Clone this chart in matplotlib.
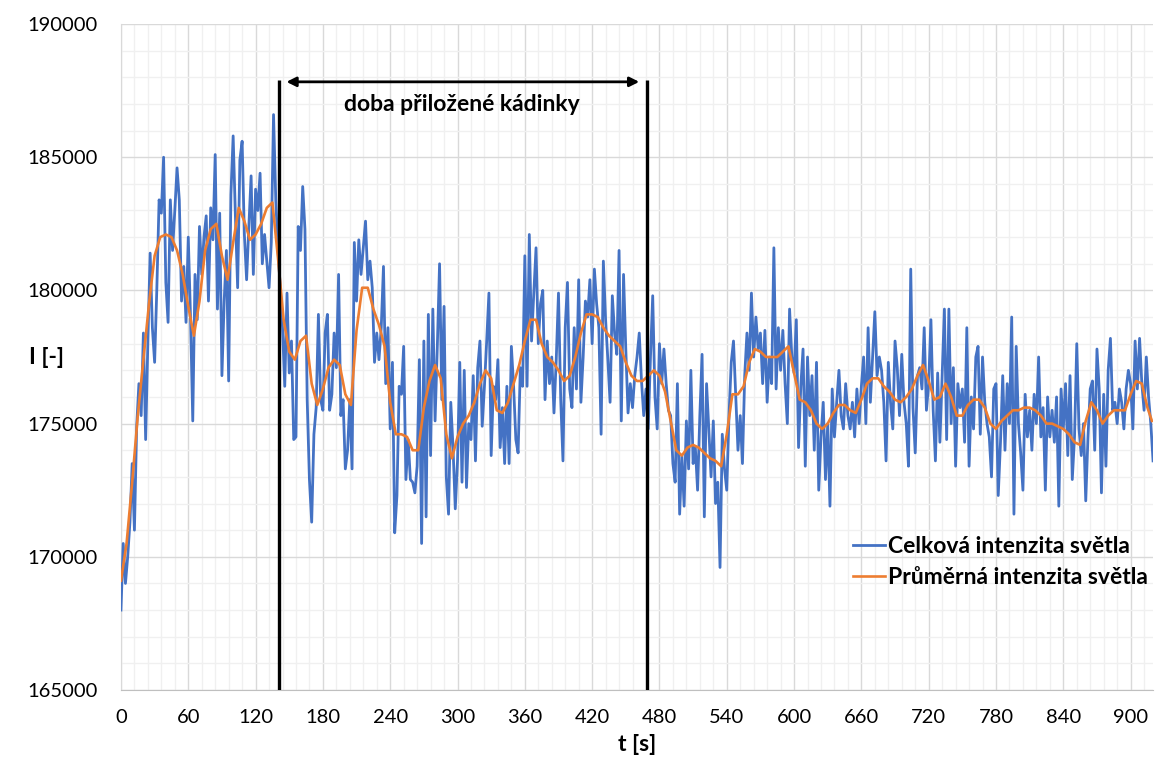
import numpy as np
import matplotlib
matplotlib.use("Agg")
import matplotlib.pyplot as plt
from matplotlib.ticker import MultipleLocator

plt.rcParams['font.family'] = ['Lato', 'DejaVu Sans']

# Celková intenzita světla, one reading every 2 s, values in thousands
celkova_k = [
    168.0, 170.5, 169.0, 170.0, 171.3, 173.5, 171.0, 174.9, 176.5, 175.3,
    178.4, 174.4, 178.1, 181.4, 178.6, 177.3, 180.1, 183.4, 182.9, 185.0,
    180.3, 178.8, 183.4, 181.5, 183.0, 184.6, 183.4, 179.6, 180.9, 178.8,
    182.0, 179.0, 175.1, 180.6, 178.9, 182.4, 180.6, 182.0, 182.8, 179.6,
    183.1, 181.9, 185.1, 179.3, 182.9, 176.8, 179.6, 181.5, 176.6, 183.6,
    185.8, 182.8, 180.1, 184.9, 185.6, 182.1, 180.4, 182.4, 184.3, 180.6,
    183.8, 183.0, 184.4, 181.0, 182.1, 181.1, 180.1, 181.8, 186.6, 183.4,
    181.5, 180.1, 178.6, 176.4, 179.9, 176.9, 178.1, 174.4, 174.5, 182.4,
    181.5, 183.9, 182.3, 175.9, 172.9, 171.3, 174.6, 175.6, 179.1, 175.9,
    175.5, 178.4, 179.1, 175.5, 176.1, 178.4, 177.1, 180.6, 175.3, 175.9,
    173.3, 174.0, 175.9, 173.3, 181.8, 179.6, 181.9, 180.6, 181.6, 182.6,
    180.4, 181.1, 180.1, 177.3, 178.4, 177.4, 178.6, 180.9, 176.5, 178.6,
    174.8, 177.3, 170.9, 172.3, 176.4, 176.1, 177.9, 172.9, 174.4, 172.9,
    172.8, 172.4, 173.4, 177.4, 170.5, 178.1, 171.5, 179.1, 173.8, 179.3,
    175.1, 177.9, 181.0, 175.9, 179.4, 173.0, 171.6, 175.8, 174.1, 171.8,
    173.6, 177.3, 172.8, 177.0, 172.6, 175.0, 174.4, 176.8, 173.6, 177.1,
    178.1, 174.9, 176.4, 178.1, 179.9, 173.8, 176.4, 175.9, 177.4, 174.1,
    175.6, 173.5, 176.4, 173.5, 177.9, 176.4, 174.4, 173.9, 177.1, 176.4,
    181.3, 176.4, 182.1, 178.1, 179.9, 181.6, 178.0, 179.5, 180.0, 175.9,
    178.1, 176.5, 177.5, 175.4, 177.4, 179.9, 175.9, 173.6, 178.6, 180.3,
    176.3, 175.6, 178.6, 176.3, 180.4, 175.8, 177.5, 179.6, 179.0, 180.4,
    178.0, 180.8, 179.5, 178.6, 174.6, 181.1, 178.9, 177.4, 175.8, 179.8,
    178.4, 177.6, 181.5, 175.1, 180.6, 177.8, 175.4, 176.5, 175.6, 176.8,
    177.5, 178.4, 176.6, 175.3, 176.3, 174.8, 177.5, 179.8, 176.0, 174.8,
    178.0, 176.5, 177.8, 176.5, 175.5, 175.3, 173.5, 172.8, 176.5, 171.6,
    173.8, 171.9, 175.1, 173.3, 177.0, 173.5, 174.1, 172.5, 175.3, 177.6,
    171.5, 176.5, 174.8, 173.0, 175.1, 172.0, 172.8, 169.6, 174.6, 173.3,
    172.5, 175.3, 177.3, 178.1, 176.0, 174.0, 175.3, 173.5, 176.8, 178.4,
    177.0, 179.9, 177.5, 179.0, 177.8, 178.4, 176.5, 178.5, 175.8, 177.5,
    176.5, 181.6, 176.3, 178.6, 177.0, 178.5, 176.5, 175.0, 179.3, 177.5,
    176.9, 178.9, 174.1, 176.4, 177.8, 173.4, 177.5, 175.3, 176.8, 174.0,
    177.3, 172.5, 174.5, 175.8, 172.9, 175.0, 171.9, 176.3, 174.5, 175.8,
    177.0, 175.3, 174.8, 176.5, 175.3, 174.8, 175.8, 174.5, 176.3, 175.0,
    176.4, 177.5, 175.0, 178.6, 175.8, 177.5, 179.2, 176.8, 177.5, 177.0,
    175.8, 173.6, 177.3, 175.8, 174.8, 178.1, 177.1, 175.3, 177.6, 175.8,
    175.0, 173.4, 180.8, 175.6, 173.9, 176.8, 177.1, 176.3, 178.6, 175.5,
    176.5, 178.9, 175.5, 173.6, 176.9, 174.3, 176.8, 179.3, 174.4, 179.3,
    175.0, 177.1, 173.4, 176.5, 175.6, 176.3, 174.3, 178.6, 173.4, 176.0,
    174.8, 177.5, 177.9, 174.6, 177.5, 175.8, 175.0, 174.5, 173.0, 176.3,
    176.5, 172.3, 174.3, 176.8, 174.0, 176.5, 175.0, 179.0, 171.6, 177.9,
    175.0, 173.9, 172.5, 176.1, 174.5, 175.5, 174.0, 176.1, 175.0, 177.5,
    174.5, 175.6, 172.5, 176.0, 174.5, 175.5, 174.3, 176.0, 171.9, 176.3,
    174.8, 176.5, 173.8, 176.8, 172.9, 174.5, 178.0, 174.8, 173.8, 175.0,
    172.1, 174.5, 176.3, 176.6, 174.0, 177.8, 176.3, 172.4, 176.1, 173.4,
    177.0, 178.2, 175.5, 175.8, 175.0, 176.3, 175.8, 174.8, 176.3, 177.0,
    176.5, 174.8, 178.1, 176.3, 178.2, 176.5, 175.5, 177.5, 176.0, 175.0,
    173.6,
]
celkova_step = 2  # s

# Průměrná intenzita světla, every 5 s, values in thousands
prumerna_k = [
    169.1, 170.5, 172.8, 175.3, 177.4, 179.5, 181.3, 182.0, 182.1, 182.0, 181.5, 180.6,
    179.4, 178.3, 179.6, 181.5, 182.3, 182.5, 181.3, 180.4, 181.8, 183.1, 182.6, 181.9,
    182.1, 182.5, 183.1, 183.3, 181.2, 178.9, 177.7, 177.4, 178.1, 178.3, 176.5, 175.7,
    176.3, 177.1, 177.4, 177.2, 176.1, 175.7, 178.5, 180.1, 180.1, 179.3, 178.7, 177.9,
    175.8, 174.6, 174.6, 174.5, 174.0, 174.0, 175.6, 176.6, 177.2, 176.7, 174.6, 173.7,
    174.5, 175.0, 175.3, 175.8, 176.5, 177.0, 176.7, 175.5, 175.4, 175.8, 176.5, 177.2,
    178.1, 178.9, 178.9, 178.0, 177.5, 177.3, 177.0, 176.6, 176.8, 177.5, 178.4, 179.1,
    179.1, 179.0, 178.6, 178.3, 178.1, 177.9, 177.3, 176.8, 176.6, 176.6, 176.8, 177.0,
    176.8, 176.2, 175.1, 174.0, 173.8, 174.1, 174.2, 174.1, 173.9, 173.7, 173.6, 173.4,
    174.6, 176.1, 176.1, 176.4, 177.3, 177.8, 177.7, 177.5, 177.5, 177.5, 177.7, 177.9,
    176.9, 175.9, 175.8, 175.5, 175.0, 174.8, 175.0, 175.4, 175.7, 175.7, 175.5, 175.4,
    175.9, 176.5, 176.7, 176.7, 176.4, 176.2, 175.9, 175.8, 176.0, 176.3, 176.8, 177.2,
    176.6, 175.9, 176.0, 176.5, 176.0, 175.3, 175.3, 175.7, 175.9, 175.9, 175.6, 175.0,
    174.8, 175.1, 175.3, 175.5, 175.5, 175.6, 175.6, 175.5, 175.3, 175.0, 175.0, 174.9,
    174.8, 174.6, 174.3, 174.2, 175.1, 175.8, 175.5, 175.0, 175.3, 175.5, 175.5, 175.5,
    176.1, 176.6, 176.5, 175.6, 175.1,
]
prumerna_step = 5  # s

# beaker placed / removed [s]
kadinka_od = 140.5
kadinka_do = 469.0

celkova = np.array(celkova_k) * 1000
prumerna = np.array(prumerna_k) * 1000
t_celkova = np.arange(len(celkova)) * celkova_step
t_prumerna = np.minimum(np.arange(len(prumerna)) * prumerna_step, 919)

fig = plt.figure(figsize=(11.62, 7.63), dpi=100)
ax = fig.add_axes([0.1041, 0.0957, 0.8882, 0.8728])

ax.plot(t_celkova, celkova, color='#4472C4', lw=2.0, label='Celková intenzita světla', zorder=3)
ax.plot(t_prumerna, prumerna, color='#ED7D31', lw=1.9, label='Průměrná intenzita světla', zorder=4)

ax.set_xlim(0, 920)
ax.set_ylim(165000, 190000)
ax.xaxis.set_major_locator(MultipleLocator(60))
ax.xaxis.set_minor_locator(MultipleLocator(12))
ax.yaxis.set_major_locator(MultipleLocator(5000))
ax.yaxis.set_minor_locator(MultipleLocator(1000))
ax.ticklabel_format(axis='y', style='plain', useOffset=False)

ax.grid(which='major', color='#d9d9d9', lw=1.0)
ax.grid(which='minor', color='#f0f0f0', lw=1.0)
ax.set_axisbelow(True)

for s in ['top', 'right']:
    ax.spines[s].set_visible(False)
ax.spines['left'].set_color('#d9d9d9')
ax.spines['bottom'].set_color('#bfbfbf')
ax.tick_params(which='both', length=0, labelsize=14.5, colors='#000000')
ax.tick_params(axis='y', pad=17)
ax.tick_params(axis='x', pad=14)

bold = dict(fontsize=16.5, fontweight='bold')
ax.set_ylabel('I [-]', rotation=0, va='center', ha='center', **bold)
ax.yaxis.set_label_coords(-0.0717, 0.5)
ax.set_xlabel('t [s]', va='center', **bold)
ax.xaxis.set_label_coords(0.5, -0.0826)

# beaker interval
ax.vlines([kadinka_od, kadinka_do], 165000, 187900, color='black', lw=2.4, zorder=5)
ax.annotate('', xy=(kadinka_od + 7, 187830), xytext=(kadinka_do - 7, 187830),
            arrowprops=dict(arrowstyle='<|-|>', color='black', lw=2, mutation_scale=14,
                            shrinkA=0, shrinkB=0), zorder=5)
ax.text((kadinka_od + kadinka_do) / 2 - 1, 186980, 'doba přiložené kádinky', ha='center', va='center',
        **bold)

ax.legend(loc='upper left', bbox_to_anchor=(0.709, 0.231), frameon=False, borderpad=0,
          borderaxespad=0, handlelength=1.4, handletextpad=0.13, labelspacing=0.45,
          prop={'size': 16.5, 'weight': 'bold'})

fig.savefig('out.png', dpi=100)
